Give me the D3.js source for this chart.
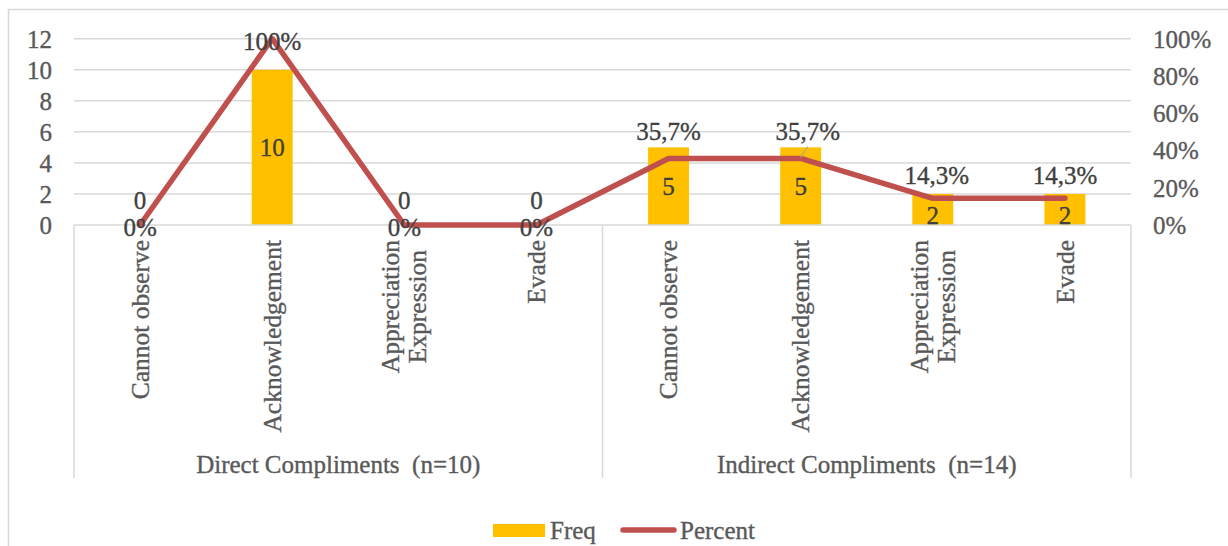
<!DOCTYPE html>
<html>
<head>
<meta charset="utf-8">
<script src="https://cdn.jsdelivr.net/npm/d3@7"></script>
<style>
  html, body { margin: 0; padding: 0; background: #fff; }
  svg { display: block; }
  text { font-family: "Liberation Serif", "Times New Roman", serif; white-space: pre; }
</style>
</head>
<body>
<svg id="chart" width="1228" height="546"></svg>
<script>
// Response strategies, grouped by compliment type
const groups = ["Direct Compliments  (n=10)", "Indirect Compliments  (n=14)"];
const strategies = ["Cannot observe", "Acknowledgement", "Appreciation\nExpression", "Evade"];
const freq = [0, 10, 0, 0, 5, 5, 2, 2];
const percent = [0, 100, 0, 0, 35.7, 35.7, 14.3, 14.3];
const freqTicks = [0, 2, 4, 6, 8, 10, 12];
const percentTicks = [0, 20, 40, 60, 80, 100];

const categories = groups.flatMap((g, gi) => strategies.map((s, si) => ({ key: gi + "-" + si, group: gi, label: s })));

const svg = d3.select("#chart");
const W = 1228, H = 546;
const plot = { left: 74, right: 1131, top: 38.7, bottom: 225 };
const FONT = 25;
const CAT_FONT = 25.5;
const GRID = "#d9d9d9";
const TICK_TXT = "#595959";
const LABEL_TXT = "#404040";
const BAR = "#ffc000";
const LINE = "#c0504d";

// Slightly heavier text strokes for the serif face
const heavy = sel => sel.attr("stroke", function () { return d3.select(this).attr("fill"); })
  .attr("stroke-width", 0.35);

// Outer chart frame
svg.append("rect")
  .attr("x", 8.5).attr("y", 9.5).attr("width", W + 20).attr("height", H + 20)
  .attr("fill", "none").attr("stroke", GRID).attr("stroke-width", 1.5);

const x = d3.scaleBand().domain(categories.map(d => d.key)).range([plot.left, plot.right]).padding(0);
const yL = d3.scaleLinear().domain([0, 12]).range([plot.bottom, plot.top]);
const yR = d3.scaleLinear().domain([0, 100]).range([plot.bottom, plot.top]);
const cx = k => x(k) + x.bandwidth() / 2;
const barW = x.bandwidth() * 0.31;

// Horizontal gridlines
svg.append("g").selectAll("line").data(freqTicks.filter(t => t > 0)).join("line")
  .attr("x1", plot.left).attr("x2", plot.right)
  .attr("y1", d => yL(d)).attr("y2", d => yL(d))
  .attr("stroke", GRID).attr("stroke-width", 1.5);

// Left axis (frequency)
const leftAxis = svg.append("g").attr("transform", `translate(${plot.left - 22},0)`)
  .call(d3.axisLeft(yL).tickValues(freqTicks).tickSize(0).tickPadding(0));
leftAxis.select(".domain").remove();
leftAxis.selectAll("text").attr("font-size", FONT).attr("fill", TICK_TXT)
  .attr("font-family", "Liberation Serif").attr("dy", "0.34em").call(heavy);

// Right axis (percentage)
const rightAxis = svg.append("g").attr("transform", `translate(${plot.right + 22},0)`)
  .call(d3.axisRight(yR).tickValues(percentTicks).tickFormat(d => d + "%").tickSize(0).tickPadding(0));
rightAxis.select(".domain").remove();
rightAxis.selectAll("text").attr("font-size", FONT).attr("fill", TICK_TXT)
  .attr("font-family", "Liberation Serif").attr("dy", "0.34em").call(heavy);

// Bars
svg.append("g").selectAll("rect").data(categories).join("rect")
  .attr("x", d => cx(d.key) - barW / 2)
  .attr("width", barW)
  .attr("y", (d, i) => yL(freq[i]))
  .attr("height", (d, i) => yL(0) - yL(freq[i]))
  .attr("fill", BAR);

// Category axis line and group dividers
const axisG = svg.append("g");
axisG.append("line").attr("x1", plot.left).attr("x2", plot.right)
  .attr("y1", plot.bottom).attr("y2", plot.bottom)
  .attr("stroke", GRID).attr("stroke-width", 1.5);
const groupEdges = [plot.left, x(categories[4].key), plot.right];
axisG.selectAll(".div").data(groupEdges).join("line")
  .attr("x1", d => d).attr("x2", d => d)
  .attr("y1", plot.bottom).attr("y2", 478)
  .attr("stroke", GRID).attr("stroke-width", 1.5);

// Percent line
const line = d3.line().x(d => cx(d.key)).y(d => yR(d.v));
svg.append("path")
  .datum(categories.map((c, i) => ({ key: c.key, v: percent[i] })))
  .attr("d", line)
  .attr("fill", "none").attr("stroke", LINE).attr("stroke-width", 5.5)
  .attr("stroke-linejoin", "round").attr("stroke-linecap", "round");

// Frequency labels
svg.append("g").selectAll("text").data(categories).join("text")
  .attr("x", d => cx(d.key))
  .attr("y", (d, i) => {
    const v = freq[i];
    const h = yL(0) - yL(v);
    if (v === 0) return yL(0) - 25;        // above the empty bar
    if (h < 40) return yL(0) - 10;         // short bar: near the base
    return (yL(v) + yL(0)) / 2;            // centred in the bar
  })
  .attr("dy", "0.34em")
  .attr("text-anchor", "middle").attr("font-size", FONT).attr("fill", LABEL_TXT)
  .text((d, i) => freq[i]).call(heavy);

// Percent labels
const fmtPct = v => (Number.isInteger(v) ? String(v) : v.toFixed(1).replace(".", ",")) + "%";
const pctLabelPos = (d, i) => {
  const v = percent[i];
  let px = cx(d.key), py = yR(v);
  if (v === 0) py += 2;
  else if (v === 100) py += 3;
  else py -= (v > 20 ? 27 : 23);
  if (i === 5) px += 7;                     // nudged label, with leader
  if (i === 6) px += 4;
  return [px, py];
};
svg.append("g").selectAll("text").data(categories).join("text")
  .attr("x", (d, i) => pctLabelPos(d, i)[0])
  .attr("y", (d, i) => pctLabelPos(d, i)[1])
  .attr("dy", "0.34em")
  .attr("text-anchor", "middle").attr("font-size", FONT).attr("fill", LABEL_TXT)
  .text((d, i) => fmtPct(percent[i])).call(heavy);

// Leader line for the nudged label
{
  const k = categories[5].key;
  svg.append("line")
    .attr("x1", cx(k) + 7).attr("y1", yR(percent[5]) - 12)
    .attr("x2", cx(k)).attr("y2", yR(percent[5]) - 1)
    .attr("stroke", "#a6a6a6").attr("stroke-width", 1.2);
}

// Rotated category labels (multi-line, block top-aligned, lines centred)
const catTop = 240, lineGap = 27;
categories.forEach(d => {
  const lines = d.label.split("\n");
  const g = svg.append("g");
  const texts = lines.map((ln, li) => g.append("text")
    .attr("font-size", CAT_FONT).attr("fill", TICK_TXT).attr("text-anchor", "middle")
    .text(ln).call(heavy));
  const maxLen = d3.max(texts, t => t.node().getComputedTextLength());
  const cyMid = catTop + maxLen / 2;
  const n = lines.length;
  texts.forEach((t, li) => {
    const off = (li - (n - 1) / 2) * lineGap;
    const tx = cx(d.key) + off;
    t.attr("transform", `translate(${tx},${cyMid}) rotate(-90)`).attr("dy", "0.34em");
  });
});

// Group labels
svg.append("g").selectAll("text").data(groups).join("text")
  .attr("x", (d, i) => (groupEdges[i] + groupEdges[i + 1]) / 2)
  .attr("y", 464).attr("dy", "0.34em")
  .attr("text-anchor", "middle").attr("font-size", FONT).attr("fill", TICK_TXT)
  .text(d => d).call(heavy);

// Legend
const lg = svg.append("g");
lg.append("rect").attr("x", 493).attr("y", 524).attr("width", 52).attr("height", 13).attr("fill", BAR);
lg.append("text").attr("x", 550).attr("y", 530).attr("dy", "0.34em")
  .attr("font-size", FONT).attr("fill", TICK_TXT).text("Freq").call(heavy);
lg.append("line").attr("x1", 623).attr("x2", 674).attr("y1", 530).attr("y2", 530)
  .attr("stroke", LINE).attr("stroke-width", 5.5).attr("stroke-linecap", "round");
lg.append("text").attr("x", 680).attr("y", 530).attr("dy", "0.34em")
  .attr("font-size", FONT).attr("fill", TICK_TXT).text("Percent").call(heavy);
</script>
</body>
</html>
